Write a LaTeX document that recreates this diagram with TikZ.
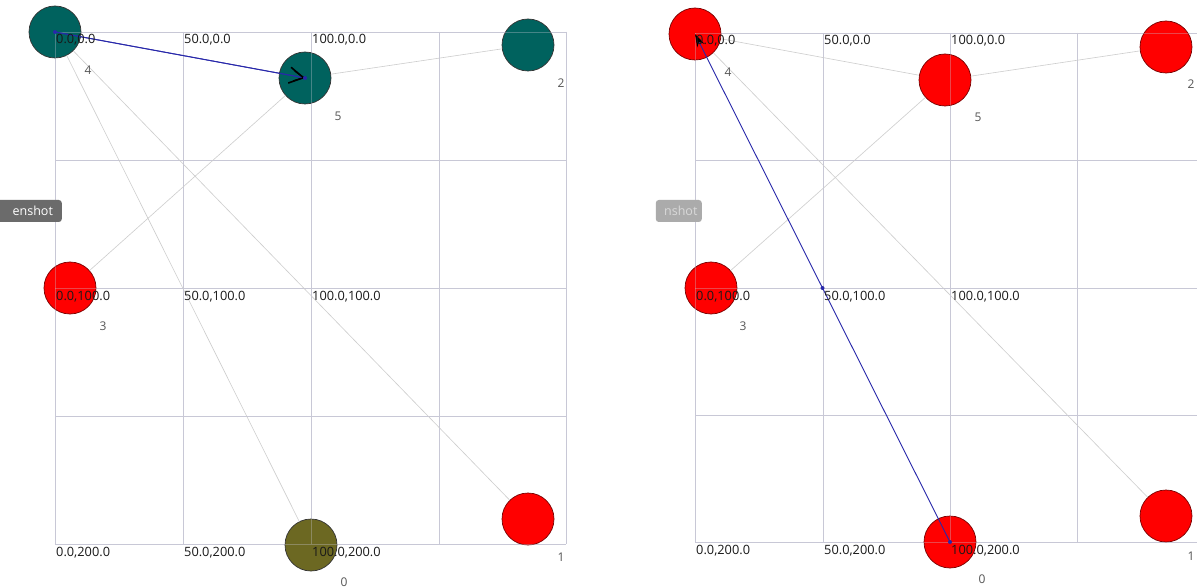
\documentclass[tikz,border=0pt]{standalone}
\usepackage{fontspec}
\setmainfont{Open Sans}
\usetikzlibrary{arrows.meta}
\definecolor{gridc}{RGB}{200,200,214}
\definecolor{edgec}{RGB}{205,205,205}
\definecolor{tealc}{RGB}{0,98,94}
\definecolor{olivec}{RGB}{108,104,34}
\definecolor{redc}{RGB}{255,0,0}
\definecolor{redb}{RGB}{120,0,0}
\definecolor{bluec}{RGB}{40,40,170}
\definecolor{numc}{RGB}{85,85,85}
\definecolor{txtc}{RGB}{25,25,25}
\tikzset{
  gridline/.style={draw=gridc, line width=0.8pt},
  gridover/.style={draw=gridc, line width=0.8pt, opacity=0.35},
  edge/.style={draw=edgec, line width=0.6pt},
  vert/.style={circle, minimum size=52pt, inner sep=0pt, line width=0.7pt},
  tealv/.style={vert, fill=tealc, draw=black!80},
  olivev/.style={vert, fill=olivec, draw=black!80},
  redv/.style={vert, fill=redc, draw=redb},
  coord/.style={anchor=base west, inner sep=0pt, text=txtc, font=\fontsize{12.8}{15}\selectfont},
  num/.style={inner sep=0pt, text=numc, font=\fontsize{12}{14}\selectfont},
  sel/.style={draw=bluec, line width=0.9pt},
  tip/.style={circle, fill=bluec, inner sep=0pt, minimum size=4pt},
  tipbox/.style={rounded corners=3pt, inner sep=0pt, minimum height=22pt, font=\fontsize{12.5}{14}\selectfont}
}
\begin{document}
\begin{tikzpicture}[x=1pt,y=-1pt]
\useasboundingbox (0,0) rectangle (1197,588);
\fill[white] (0,0) rectangle (1197,588);
% ---------- left panel grid
\foreach \gx in {55,183,311,439,566} \draw[gridline] (\gx,32) -- (\gx,544);
\foreach \gy in {32,160,288,416,544} \draw[gridline] (55,\gy) -- (566,\gy);
% ---------- right panel grid
\foreach \gx in {695,823,950,1077,1205} \draw[gridline] (\gx,33) -- (\gx,542);
\foreach \gy in {33,160,288,415,542} \draw[gridline] (695,\gy) -- (1205,\gy);
% ---------- left panel nodes
\node[tealv] (L4) at (55,32) {};
\node[tealv] (L5) at (305,78) {};
\node[tealv] (L2) at (528,45) {};
\node[redv] (L3) at (70,288) {};
\node[olivev] (L0) at (311,545) {};
\node[redv] (L1) at (528,519) {};
% ---------- right panel nodes
\node[redv] (R4) at (695,34) {};
\node[redv] (R5) at (945,80) {};
\node[redv] (R2) at (1166,47) {};
\node[redv] (R3) at (711,288) {};
\node[redv] (R0) at (950,542) {};
\node[redv] (R1) at (1166,516) {};
% ---------- gray edges
\draw[edge] (L5) -- (L2);
\draw[edge] (L5) -- (L3);
\draw[edge] (L4) -- (L0);
\draw[edge] (L4) -- (L1);
\draw[edge] (R4) -- (R5);
\draw[edge] (R5) -- (R2);
\draw[edge] (R5) -- (R3);
\draw[edge] (R4) -- (R1);
% ---------- faint grid over the circles
\foreach \gx in {55,183,311,439,566} \draw[gridover] (\gx,32) -- (\gx,544);
\foreach \gy in {32,160,288,416,544} \draw[gridover] (55,\gy) -- (566,\gy);
\foreach \gx in {695,823,950,1077,1205} \draw[gridover] (\gx,33) -- (\gx,542);
\foreach \gy in {33,160,288,415,542} \draw[gridover] (695,\gy) -- (1205,\gy);
% ---------- selected (blue) edges
\draw[sel, -{Straight Barb[length=14pt,width=16pt,line width=1.6pt,black]}] (L4.center) -- (L5.center);
\draw[sel, -{Straight Barb[length=10pt,width=10pt,line width=1.2pt,black]}] (L4.center) -- (L5.center);
\node[tip] at (L4.center) {};
\node[tip] at (L5.center) {};
\draw[sel, -{Stealth[length=13pt,width=8pt,black]}] (R0.center) -- node[tip, pos=0.5] (Rmid) {} (R4.center);
\node[tip] at (R0.center) {};
% ---------- coordinate labels, left
\node[coord] (lc00) at (56,44) {0.0,0.0};
\node[coord] (lc10) at (184,44) {50.0,0.0};
\node[coord] (lc20) at (312,44) {100.0,0.0};
\node[coord] (lc01) at (56,300) {0.0,100.0};
\node[coord] (lc11) at (184,300) {50.0,100.0};
\node[coord] (lc21) at (312,300) {100.0,100.0};
\node[coord] (lc02) at (56,556) {0.0,200.0};
\node[coord] (lc12) at (184,556) {50.0,200.0};
\node[coord] (lc22) at (312,556) {100.0,200.0};
% ---------- coordinate labels, right
\node[coord] (rc00) at (696,45) {0.0,0.0};
\node[coord] (rc10) at (824,45) {50.0,0.0};
\node[coord] (rc20) at (951,45) {100.0,0.0};
\node[coord] (rc01) at (696,300) {0.0,100.0};
\node[coord] (rc11) at (824,300) {50.0,100.0};
\node[coord] (rc21) at (951,300) {100.0,100.0};
\node[coord] (rc02) at (696,554) {0.0,200.0};
\node[coord] (rc12) at (824,554) {50.0,200.0};
\node[coord] (rc22) at (951,554) {100.0,200.0};
% ---------- vertex numbers
\node[num] at (88,70) {4};
\node[num] at (338,116) {5};
\node[num] at (561,83) {2};
\node[num] at (103,326) {3};
\node[num] at (344,582) {0};
\node[num] at (561,557) {1};
\node[num] at (728,72) {4};
\node[num] at (978,117) {5};
\node[num] at (1191,84) {2};
\node[num] at (743,326) {3};
\node[num] at (982,579) {0};
\node[num] at (1191,556) {1};
% ---------- tooltip fragments
\node[tipbox, fill=black!58, text=white, minimum width=74pt, anchor=east] (tt1) at (62,211) {\hspace{16pt}enshot};
\node[tipbox, fill=black!33, text=black!15, minimum width=46pt, anchor=east] (tt2) at (702,211) {\hspace{4pt}nshot};
\end{tikzpicture}
\end{document}
